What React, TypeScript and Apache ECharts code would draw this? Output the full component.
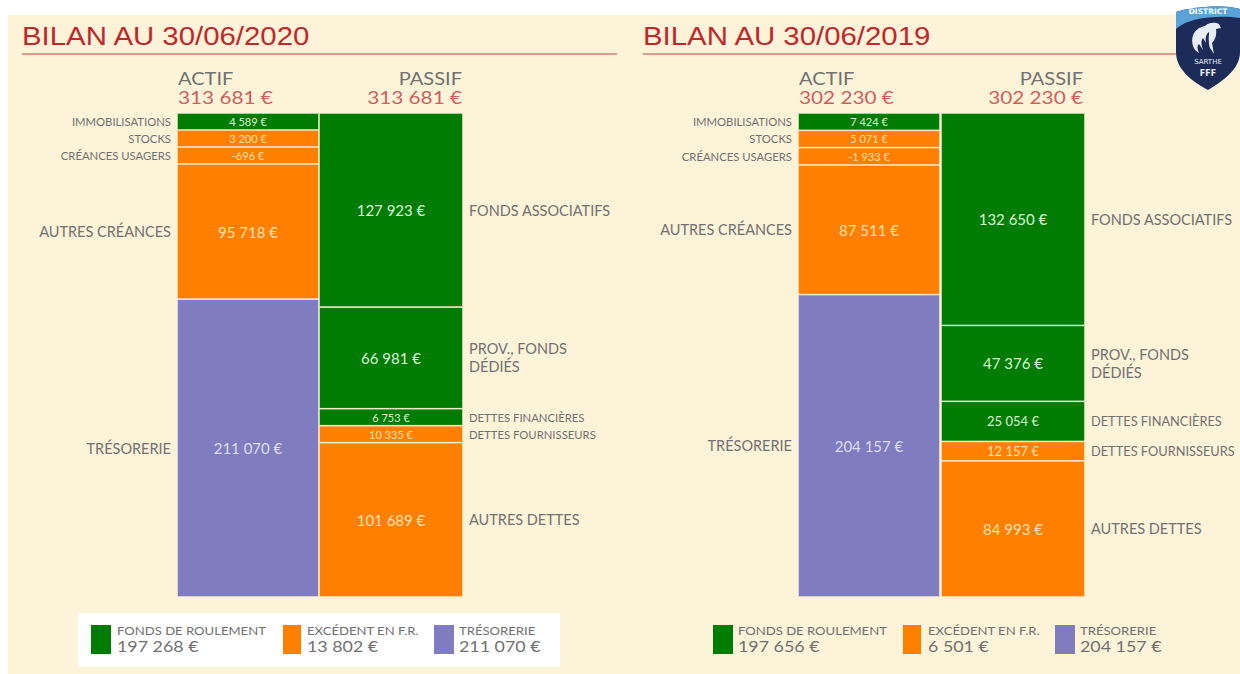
import React, { useEffect, useRef } from "react";
import * as echarts from "echarts";

const GREEN = "#007c02";
const ORANGE = "#ff7f00";
const PURPLE = "#7f7dbf";
const CREAM = "#fdf3d9";
const RED = "#c0282c";
const GREY = "#717171";

const actifNames = ["IMMOBILISATIONS", "STOCKS", "CRÉANCES USAGERS", "AUTRES CRÉANCES", "TRÉSORERIE"];
const passifNames = ["FONDS ASSOCIATIFS", "PROV., FONDS\nDÉDIÉS", "DETTES FINANCIÈRES", "DETTES FOURNISSEURS", "AUTRES DETTES"];
const actifColors = [GREEN, ORANGE, ORANGE, ORANGE, PURPLE];
const passifColors = [GREEN, GREEN, GREEN, ORANGE, ORANGE];

// Amounts printed on the segments
const actif2020 = ["4 589 €", "3 200 €", "-696 €", "95 718 €", "211 070 €"];
const passif2020 = ["127 923 €", "66 981 €", "6 753 €", "10 335 €", "101 689 €"];
const actif2019 = ["7 424 €", "5 071 €", "-1 933 €", "87 511 €", "204 157 €"];
const passif2019 = ["132 650 €", "47 376 €", "25 054 €", "12 157 €", "84 993 €"];

// Amounts as drawn: the smallest items are shown with a minimum height in the original
const actif2020Drawn = [12050, 12050, 12050, 95718, 211070];
const passif2020Drawn = [127923, 66981, 11200, 11200, 101689];
const actif2019Drawn = [11700, 11700, 11700, 87511, 204157];
const passif2019Drawn = [132650, 47376, 25054, 12157, 84993];

const legendNames = ["FONDS DE ROULEMENT", "EXCÉDENT EN F.R.", "TRÉSORERIE"];
const legendColors = [GREEN, ORANGE, PURPLE];
const legend2020 = ["197 268 €", "13 802 €", "211 070 €"];
const legend2019 = ["197 656 €", "6 501 €", "204 157 €"];

const FONT = "Lato, 'Open Sans', sans-serif";
const TOP = 113;
const HEIGHT = 484;

const SHIELD = "M1 10 C14 5 50 2 65 7 L65 50 C65 68 46 80 33 88 C18 80 1 68 1 50 Z";
const BAND = "M1 10 C14 5 50 2 65 7 L65 16 C44 13 14 15 1 27 Z";
const ROOSTER = "M20 48 C14 38 18 26 30 24 C34 20 40 20 44 22 L46 26 L41 27 C42 33 40 38 37 41 L39 52 L35 46 C33 40 34 34 34 30 C31 32 30 36 31 41 L28 36 C26 38 26 42 28 48 L24 42 C22 44 22 46 24 51 Z";

echarts.graphic.registerShape("shield", echarts.graphic.extendPath(SHIELD, {}) as any);
echarts.graphic.registerShape("band", echarts.graphic.extendPath(BAND, {}) as any);
echarts.graphic.registerShape("rooster", echarts.graphic.extendPath(ROOSTER, {}) as any);

export default function App() {
  const ref = useRef<HTMLDivElement>(null);

  useEffect(() => {
    document.body.style.margin = "0";
    const chart = echarts.init(ref.current!, undefined, { renderer: "svg" });

    const grids: any[] = [];
    const xAxes: any[] = [];
    const yAxes: any[] = [];
    const series: any[] = [];

    const addColumn = (
      key: string,
      side: "actif" | "passif",
      left: number,
      width: number,
      names: string[],
      labels: string[],
      drawn: number[],
      colors: string[],
    ) => {
      const index = grids.length;
      const total = drawn.reduce((a, b) => a + b, 0);
      grids.push({ left, width, top: TOP, height: HEIGHT });
      xAxes.push({
        type: "category",
        gridIndex: index,
        data: side === "actif" ? ["noms", "ACTIF"] : ["PASSIF", "noms"],
        show: false,
      });
      yAxes.push({ type: "value", gridIndex: index, inverse: true, min: 0, max: total, show: false });
      const nameSlot = side === "actif" ? 0 : 1;
      const barSlot = 1 - nameSlot;
      drawn.forEach((value, i) => {
        const h = (value / total) * HEIGHT;
        const small = h < 18;
        const mid = !small && h < 45;
        const nameSize = small ? 11.3 : mid ? 12.8 : 14.5;
        const nameCell = {
          value,
          itemStyle: { color: "rgba(0,0,0,0)", borderWidth: 0 },
          label: {
            show: true,
            position: side === "actif" ? "insideRight" : "insideLeft",
            distance: 6,
            formatter: () => names[i],
            color: GREY,
            fontFamily: FONT,
            fontSize: nameSize,
            lineHeight: 18,
            align: side === "actif" ? "right" : "left",
          },
        };
        const barCell = {
          value,
          itemStyle: { color: colors[i], borderColor: CREAM, borderWidth: 0.7 },
          label: {
            show: true,
            position: "inside",
            formatter: () => labels[i],
            color: colors[i] === GREEN ? "#d9f7d5" : colors[i] === ORANGE ? "#ffe0b0" : "#dcdcf5",
            fontFamily: FONT,
            fontSize: small ? 11 : mid ? 13 : 15,
          },
        };
        const data: any[] = [];
        data[nameSlot] = nameCell;
        data[barSlot] = barCell;
        series.push({
          type: "bar",
          name: `${key} ${names[i]}`,
          stack: key,
          xAxisIndex: index,
          yAxisIndex: index,
          barWidth: "100%",
          silent: true,
          data,
        });
      });
    };

    addColumn("a20", "actif", 35, 284, actifNames, actif2020, actif2020Drawn, actifColors);
    addColumn("p20", "passif", 319, 288, passifNames, passif2020, passif2020Drawn, passifColors);
    addColumn("a19", "actif", 656, 284, actifNames, actif2019, actif2019Drawn, actifColors);
    addColumn("p19", "passif", 941, 288, passifNames, passif2019, passif2019Drawn, passifColors);

    const text = (x: number, y: number, t: string, fontSize: number, fill: string, scaleX = 1, extra: any = {}) => ({
      type: "text",
      x,
      y,
      scaleX,
      silent: true,
      style: { text: t, fontSize, fill, fontFamily: FONT, textVerticalAlign: "middle", ...extra },
    });

    const panel = (x0: number, lineEnd: number, year: string, total: string, actifX: number, passifX: number) => [
      text(x0, 36, `BILAN AU 30/06/${year}`, 25, RED, 1.175, { fontFamily: "'Liberation Sans', Arial, sans-serif" }),
      { type: "line", silent: true, shape: { x1: x0, y1: 54, x2: lineEnd, y2: 54 }, style: { stroke: "#c8453f", lineWidth: 1 } },
      text(actifX, 78.5, "ACTIF", 17, GREY, 1.18),
      text(actifX, 97, total, 17, "#cc5f5c", 1.22),
      text(passifX, 78.5, "PASSIF", 17, GREY, 1.18, { textAlign: "right" }),
      text(passifX, 97, total, 17, "#cc5f5c", 1.22, { textAlign: "right" }),
    ];

    const legend = (boxes: number[][], values: string[]) =>
      boxes.flatMap(([x, w, tx], i) => [
        { type: "rect", silent: true, shape: { x, y: 625, width: w, height: 29 }, style: { fill: legendColors[i] } },
        text(tx, 631, legendNames[i], 11, GREY, 1.19),
        text(tx, 646.5, values[i], 15, GREY, 1.19),
      ]);

    const small = { textAlign: "center", textVerticalAlign: "middle", fontFamily: "'DejaVu Sans', sans-serif" };
    const logo = {
      type: "group",
      x: 1175,
      y: 2,
      silent: true,
      children: [
        { type: "shield", style: { fill: "#1c2b58" } },
        { type: "band", style: { fill: "#5aa2d8" } },
        { type: "rooster", style: { fill: "#e8edf5" } },
        { type: "text", x: 33, y: 9.5, style: { text: "DISTRICT", fontSize: 7.5, fontWeight: "bold", fill: "#ffffff", ...small } },
        { type: "text", x: 33, y: 60, style: { text: "SARTHE", fontSize: 7, fill: "#e8edf5", ...small } },
        { type: "text", x: 33, y: 71, style: { text: "FFF", fontSize: 8, fontWeight: "bold", fill: "#e8edf5", ...small } },
      ],
    };

    chart.setOption({
      animation: false,
      backgroundColor: "#ffffff",
      grid: grids,
      xAxis: xAxes,
      yAxis: yAxes,
      series,
      graphic: {
        elements: [
          { type: "rect", z: -10, silent: true, shape: { x: 8, y: 15, width: 1232, height: 659 }, style: { fill: CREAM } },
          { type: "rect", z: -9, silent: true, shape: { x: 78, y: 613, width: 482, height: 54 }, style: { fill: "#ffffff" } },
          ...panel(22, 617, "2020", "313 681 €", 178, 462),
          ...panel(643, 1180, "2019", "302 230 €", 799, 1083),
          ...legend([[91, 20, 117], [283, 18, 307], [434, 20, 459]], legend2020),
          ...legend([[713, 20, 738], [903, 18, 928], [1055, 20, 1080]], legend2019),
          logo,
        ],
      },
    });

    return () => chart.dispose();
  }, []);

  return <div ref={ref} style={{ width: 1240, height: 674 }} />;
}
